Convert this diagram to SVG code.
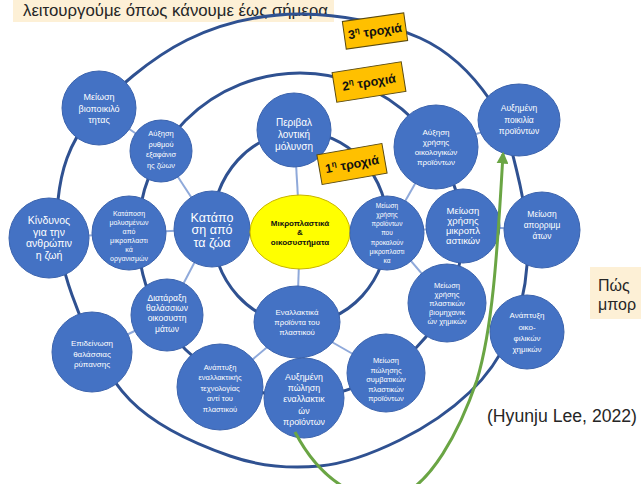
<svg xmlns="http://www.w3.org/2000/svg" width="641" height="484" viewBox="0 0 641 484">
  <defs>
    <style>
      .ring{fill:none;stroke:#2f5191;stroke-width:3}
      .spoke{stroke:#8fa9da;stroke-width:2}
      .node{fill:#4472c4;stroke:#3b63ad;stroke-width:1}
      .t{font-family:"Liberation Sans",Arial,sans-serif;fill:#ffffff;text-anchor:middle}
      .tag rect{fill:#ffc000;stroke:#5a4a10;stroke-width:1}
      .tag text{font-family:"Liberation Sans",Arial,sans-serif;font-weight:bold;font-size:12.5px;fill:#111;text-anchor:middle}
      .note{fill:#fdf0d6}
      .nt{font-family:"Liberation Sans",Arial,sans-serif;fill:#262626}
    </style>
    <marker id="arrowG" viewBox="0 0 10 10" refX="8" refY="5" markerWidth="4" markerHeight="4" orient="auto">
      <path d="M0,0 L10,5 L0,10 Z" fill="#6aa544"/>
    </marker>
  </defs>

  <rect width="641" height="484" fill="#ffffff"/>

  <!-- side notes -->
  <g id="note-top">
    <rect class="note" x="13" y="0" width="321" height="22"/>
    <text class="nt" x="23" y="16" font-size="17" textLength="305" lengthAdjust="spacingAndGlyphs">λειτουργούμε όπως κάνουμε έως σήμερα</text>
  </g>
  <g id="note-right">
    <rect class="note" x="590" y="267" width="51" height="52"/>
    <text class="nt" x="598" y="291" font-size="16">Πώς</text>
    <text class="nt" x="598" y="310" font-size="16">μπορ</text>
  </g>
  <text id="citation" class="nt" x="487" y="422" font-size="18" textLength="150" lengthAdjust="spacingAndGlyphs">(Hyunju Lee, 2022)</text>

  <!-- orbits and links -->
  <g id="connectors">
    <ellipse class="ring" cx="300" cy="228" rx="88" ry="96"/>
    <circle class="ring" cx="300" cy="235" r="162"/>
    <path class="ring" d="M300,14 C338.8,13.7 388.3,23.7 420,38 C451.7,52.3 473.3,75.5 490,100 C506.7,124.5 513.8,157.5 520,185 C526.2,212.5 528.7,240 527,265 C525.3,290 519.5,313.8 510,335 C500.5,356.2 488.3,374.5 470,392 C451.7,409.5 425,427.7 400,440 C375,452.3 348.3,463.3 320,466 C291.7,468.7 261.7,467 230,456 C198.3,445 156.3,426.8 130,400 C103.7,373.2 84,328.3 72,295 C60,261.7 55,229.5 58,200 C61,170.5 68.5,144.7 90,118 C111.5,91.3 152,57.3 187,40 C222,22.7 261.2,14.3 300,14 Z"/>

    <line class="spoke" x1="294" y1="130" x2="300" y2="232"/>
    <line class="spoke" x1="300" y1="232" x2="297" y2="322"/>
    <line class="spoke" x1="300" y1="232" x2="212" y2="229"/>
    <line class="spoke" x1="300" y1="232" x2="387" y2="233"/>
    <line class="spoke" x1="212" y1="229" x2="129" y2="233"/>
    <line class="spoke" x1="212" y1="229" x2="161" y2="151"/>
    <line class="spoke" x1="212" y1="229" x2="167" y2="315"/>
    <line class="spoke" x1="161" y1="151" x2="99" y2="108"/>
    <line class="spoke" x1="129" y1="233" x2="49" y2="238"/>
    <line class="spoke" x1="167" y1="315" x2="92" y2="352"/>
    <line class="spoke" x1="297" y1="322" x2="220" y2="387"/>
    <line class="spoke" x1="297" y1="322" x2="304" y2="398"/>
    <line class="spoke" x1="297" y1="322" x2="386" y2="373"/>
    <line class="spoke" x1="387" y1="233" x2="436" y2="147"/>
    <line class="spoke" x1="387" y1="233" x2="463" y2="226"/>
    <line class="spoke" x1="387" y1="233" x2="447" y2="303"/>
    <line class="spoke" x1="436" y1="147" x2="519" y2="120"/>
    <line class="spoke" x1="463" y1="226" x2="542" y2="230"/>
  </g>

  <!-- nodes -->
  <g id="n-biodiversity">
    <circle class="node" cx="99" cy="108" r="37"/>
    <text class="t" font-size="9"><tspan x="99" y="100">Μείωση</tspan><tspan x="99" y="111.5">βιοποικιλό</tspan><tspan x="99" y="123">τητας</tspan></text>
  </g>
  <g id="n-extinction">
    <circle class="node" cx="161" cy="151" r="31"/>
    <text class="t" font-size="7.5"><tspan x="161" y="136">Αύξηση</tspan><tspan x="161" y="146.5">ρυθμού</tspan><tspan x="161" y="157">εξαφάνισ</tspan><tspan x="161" y="167.5">ης ζώων</tspan></text>
  </g>
  <g id="n-pollution">
    <circle class="node" cx="294" cy="130" r="37"/>
    <text class="t" font-size="10"><tspan x="294" y="125.5">Περιβαλ</tspan><tspan x="294" y="137.5">λοντική</tspan><tspan x="294" y="149.5">μόλυνση</tspan></text>
  </g>
  <g id="n-eco-products">
    <circle class="node" cx="436" cy="147" r="42"/>
    <text class="t" font-size="8"><tspan x="436" y="135">Αύξηση</tspan><tspan x="436" y="145">χρήσης</tspan><tspan x="436" y="155">οικολογικών</tspan><tspan x="436" y="165">προϊόντων</tspan></text>
  </g>
  <g id="n-variety">
    <ellipse class="node" cx="519" cy="120" rx="41" ry="36"/>
    <text class="t" font-size="8.5"><tspan x="519" y="111">Αυξημένη</tspan><tspan x="519" y="123">ποικιλία</tspan><tspan x="519" y="134">προϊόντων</tspan></text>
  </g>
  <g id="n-human-risk">
    <circle class="node" cx="49" cy="238" r="40"/>
    <text class="t" font-size="10.5"><tspan x="49" y="224">Κίνδυνος</tspan><tspan x="49" y="235.5">για την</tspan><tspan x="49" y="247">ανθρώπιν</tspan><tspan x="49" y="258.5">η ζωή</tspan></text>
  </g>
  <g id="n-contaminated-prey">
    <circle class="node" cx="129" cy="233" r="37"/>
    <text class="t" font-size="7"><tspan x="129" y="215.5">Κατάποση</tspan><tspan x="129" y="224.5">μολυσμένων</tspan><tspan x="129" y="233.5">από</tspan><tspan x="129" y="242.5">μικροπλαστι</tspan><tspan x="129" y="251.5">κά</tspan><tspan x="129" y="260.5">οργανισμών</tspan></text>
  </g>
  <g id="n-ingestion">
    <circle class="node" cx="212" cy="229" r="38"/>
    <text class="t" font-size="12.5"><tspan x="212" y="221.5">Κατάπο</tspan><tspan x="212" y="234">ση από</tspan><tspan x="212" y="246.5">τα ζώα</tspan></text>
  </g>
  <g id="n-core">
    <ellipse cx="300" cy="232" rx="50" ry="37" fill="#ffff00" stroke="#c8b400" stroke-width="1"/>
    <text class="t" font-size="8" font-weight="bold" style="fill:#111"><tspan x="300" y="226">Μικροπλαστικά</tspan><tspan x="300" y="235">&amp;</tspan><tspan x="300" y="245">οικοσυστήματα</tspan></text>
  </g>
  <g id="n-reduce-sources">
    <circle class="node" cx="387" cy="233" r="37"/>
    <text class="t" font-size="6.5"><tspan x="387" y="207.5">Μείωση</tspan><tspan x="387" y="216.8">χρήσης</tspan><tspan x="387" y="226.1">προϊόντων</tspan><tspan x="387" y="235.4">που</tspan><tspan x="387" y="244.7">προκαλούν</tspan><tspan x="387" y="254">μικροπλαστι</tspan><tspan x="387" y="263.3">κα</tspan></text>
  </g>
  <g id="n-reduce-microplastics">
    <circle class="node" cx="463" cy="226" r="37"/>
    <text class="t" font-size="9.5"><tspan x="463" y="213.5">Μείωση</tspan><tspan x="463" y="223.5">χρήσης</tspan><tspan x="463" y="233.5">μικροπλ</tspan><tspan x="463" y="243.5">αστικών</tspan></text>
  </g>
  <g id="n-waste">
    <circle class="node" cx="542" cy="230" r="38"/>
    <text class="t" font-size="8.5"><tspan x="542" y="217">Μείωση</tspan><tspan x="542" y="228">απορριμμ</tspan><tspan x="542" y="239">άτων</tspan></text>
  </g>
  <g id="n-marine-ecosystems">
    <circle class="node" cx="167" cy="315" r="36"/>
    <text class="t" font-size="8.5"><tspan x="167" y="301">Διατάραξη</tspan><tspan x="167" y="311">θαλάσσιων</tspan><tspan x="167" y="321">οικοσυστη</tspan><tspan x="167" y="332">μάτων</tspan></text>
  </g>
  <g id="n-alternatives">
    <ellipse class="node" cx="297" cy="322" rx="43" ry="36"/>
    <text class="t" font-size="7.8"><tspan x="297" y="315">Εναλλακτικά</tspan><tspan x="297" y="325">προϊόντα του</tspan><tspan x="297" y="335">πλαστικού</tspan></text>
  </g>
  <g id="n-industrial">
    <circle class="node" cx="447" cy="303" r="39"/>
    <text class="t" font-size="7.5"><tspan x="447" y="287.6">Μείωση</tspan><tspan x="447" y="296.6">χρήσης</tspan><tspan x="447" y="305.6">πλαστικών</tspan><tspan x="447" y="314.6">βιομηχανικ</tspan><tspan x="447" y="323.6">ών χημικών</tspan></text>
  </g>
  <g id="n-eco-chemicals">
    <circle class="node" cx="527" cy="332" r="37"/>
    <text class="t" font-size="8"><tspan x="527" y="318">Ανάπτυξη</tspan><tspan x="527" y="330">οικο-</tspan><tspan x="527" y="341">φιλικών</tspan><tspan x="527" y="352">χημικών</tspan></text>
  </g>
  <g id="n-marine-pollution">
    <circle class="node" cx="92" cy="352" r="40"/>
    <text class="t" font-size="8"><tspan x="92" y="346">Επιδείνωση</tspan><tspan x="92" y="356.5">θαλάσσιας</tspan><tspan x="92" y="367">ρύπανσης</tspan></text>
  </g>
  <g id="n-alt-technology">
    <circle class="node" cx="220" cy="387" r="43"/>
    <text class="t" font-size="7.5"><tspan x="220" y="369.6">Ανάπτυξη</tspan><tspan x="220" y="380.1">εναλλακτικής</tspan><tspan x="220" y="390.6">τεχνολογίας</tspan><tspan x="220" y="401.1">αντί του</tspan><tspan x="220" y="411.6">πλαστικού</tspan></text>
  </g>
  <g id="n-alt-sales">
    <circle class="node" cx="304" cy="398" r="40"/>
    <text class="t" font-size="8.8"><tspan x="304" y="380">Αυξημένη</tspan><tspan x="304" y="391">πώληση</tspan><tspan x="304" y="402">εναλλακτικ</tspan><tspan x="304" y="414">ών</tspan><tspan x="304" y="425">προϊόντων</tspan></text>
  </g>
  <g id="n-conventional-sales">
    <circle class="node" cx="386" cy="373" r="39"/>
    <text class="t" font-size="7.5"><tspan x="386" y="362.6">Μείωση</tspan><tspan x="386" y="372.6">πώλησης</tspan><tspan x="386" y="381.6">συμβατικών</tspan><tspan x="386" y="391.6">πλαστικών</tspan><tspan x="386" y="400.6">προϊόντων</tspan></text>
  </g>

  <!-- orbit tags -->
  <g id="tag-orbit-3" class="tag" transform="translate(375,31) rotate(-8)">
    <rect x="-31" y="-14" width="62" height="28"/>
    <text x="0" y="4.5">3<tspan font-size="8" dy="-5">η</tspan><tspan dy="5"> τροχιά</tspan></text>
  </g>
  <g id="tag-orbit-2" class="tag" transform="translate(369,82) rotate(-9)">
    <rect x="-35" y="-15" width="70" height="30"/>
    <text x="0" y="4.5">2<tspan font-size="8" dy="-5">η</tspan><tspan dy="5"> τροχιά</tspan></text>
  </g>
  <g id="tag-orbit-1" class="tag" transform="translate(352,164) rotate(-10)">
    <rect x="-33" y="-15" width="66" height="30"/>
    <text x="0" y="4.5">1<tspan font-size="8" dy="-5">η</tspan><tspan dy="5"> τροχιά</tspan></text>
  </g>

  <!-- pathway arrow -->
  <path id="pathway" d="M295,432 C320,480 360,505 395,497 C430,488 460,430 477,380 C492,330 497,260 503,154" fill="none" stroke="#6aa544" stroke-width="3" marker-end="url(#arrowG)"/>
</svg>
